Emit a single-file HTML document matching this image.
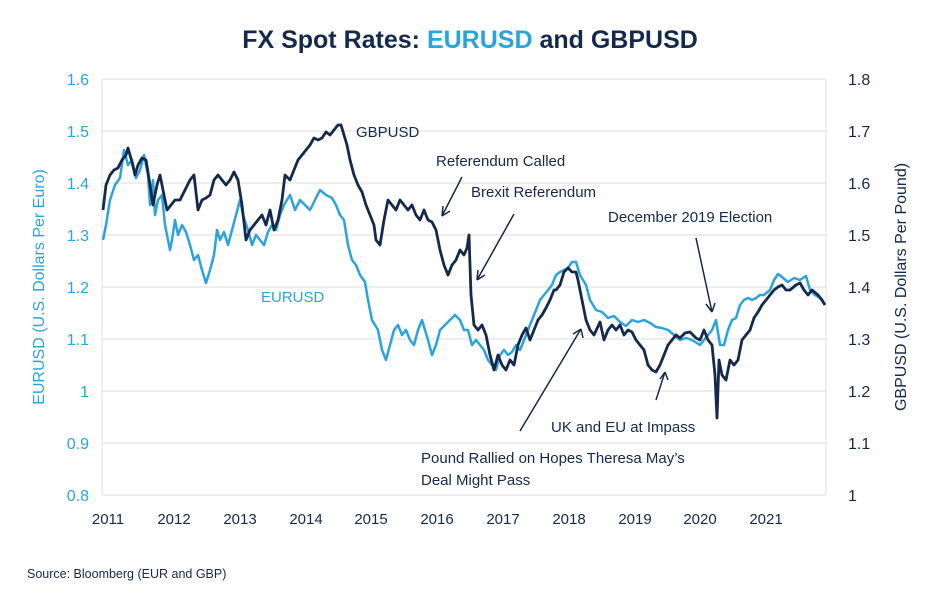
<!DOCTYPE html><html><head><meta charset="utf-8"><style>
html,body{margin:0;padding:0;background:#fff;width:940px;height:600px;overflow:hidden}
svg{display:block;font-family:"Liberation Sans",sans-serif}
</style></head><body>
<svg width="940" height="600" viewBox="0 0 940 600">
<text x="470" y="48" text-anchor="middle" font-size="25" font-weight="bold" fill="#14294b">FX Spot Rates: <tspan fill="#2ba4dc">EURUSD</tspan> and GBPUSD</text>
<g stroke="#dcdcdc" stroke-width="1">
<line x1="102" y1="79" x2="826" y2="79"/><line x1="102" y1="131" x2="826" y2="131"/><line x1="102" y1="183" x2="826" y2="183"/><line x1="102" y1="235" x2="826" y2="235"/><line x1="102" y1="287" x2="826" y2="287"/><line x1="102" y1="339" x2="826" y2="339"/><line x1="102" y1="391" x2="826" y2="391"/><line x1="102" y1="443" x2="826" y2="443"/><line x1="102" y1="495" x2="826" y2="495"/>
<line x1="102" y1="79" x2="102" y2="495"/><line x1="826" y1="79" x2="826" y2="495"/>
</g>
<g font-size="16" fill="#2ba4dc" text-anchor="end">
<text x="89" y="85">1.6</text><text x="89" y="137">1.5</text><text x="89" y="189">1.4</text><text x="89" y="241">1.3</text><text x="89" y="293">1.2</text><text x="89" y="345">1.1</text><text x="89" y="397">1</text><text x="89" y="449">0.9</text><text x="89" y="501">0.8</text>
</g>
<g font-size="16" fill="#14294b">
<text x="848" y="85">1.8</text><text x="848" y="137">1.7</text><text x="848" y="189">1.6</text><text x="848" y="241">1.5</text><text x="848" y="293">1.4</text><text x="848" y="345">1.3</text><text x="848" y="397">1.2</text><text x="848" y="449">1.1</text><text x="848" y="501">1</text>
</g>
<g font-size="15" fill="#14294b" text-anchor="middle">
<text x="108" y="524">2011</text><text x="174" y="524">2012</text><text x="240" y="524">2013</text><text x="306" y="524">2014</text><text x="371" y="524">2015</text><text x="437" y="524">2016</text><text x="503" y="524">2017</text><text x="569" y="524">2018</text><text x="635" y="524">2019</text><text x="700" y="524">2020</text><text x="766" y="524">2021</text>
</g>
<text transform="translate(44,287) rotate(-90)" text-anchor="middle" font-size="16" fill="#2ba4dc">EURUSD (U.S. Dollars Per Euro)</text>
<text transform="translate(906,287) rotate(-90)" text-anchor="middle" font-size="16" fill="#14294b">GBPUSD (U.S. Dollars Per Pound)</text>
<polyline fill="none" stroke="#2ba4dc" stroke-width="2.5" stroke-linejoin="round" points="103,240 106,225 110,200 115,185 120,178 124,150 128,165 132,160 136,178 140,170 144,155 148,175 150,205 153,180 155,215 158,200 162,195 165,225 170,250 172,240 175,220 178,235 182,225 186,232 190,245 194,260 198,255 202,270 206,283 210,270 214,255 217,230 220,240 224,232 228,245 232,230 236,215 240,200 243,215 248,230 252,245 256,235 260,240 264,245 268,232 272,225 276,230 280,215 284,205 290,195 295,210 300,200 305,205 310,210 316,198 320,190 326,195 332,198 336,205 340,215 344,220 348,245 352,260 356,265 360,275 365,282 368,300 372,320 375,325 378,330 382,350 386,360 390,345 394,330 398,325 402,335 406,330 410,340 414,345 418,330 422,320 428,340 432,355 436,345 440,330 445,325 450,320 455,315 460,320 464,330 468,330 472,345 476,340 480,345 484,350 488,360 492,365 496,370 500,355 504,350 508,355 512,352 516,345 520,350 524,340 528,330 532,320 536,310 540,300 544,295 548,290 552,285 556,275 560,272 564,270 568,268 572,262 576,262 580,275 586,285 590,300 596,310 602,312 608,318 614,316 620,322 626,326 632,320 638,322 644,320 650,323 656,327 662,328 668,330 674,335 680,340 686,338 692,340 700,345 704,340 708,335 712,330 716,320 720,345 724,345 728,330 732,320 736,318 740,305 744,300 748,298 752,300 756,298 760,295 764,295 770,290 774,280 778,274 782,277 788,282 794,278 800,280 806,276 810,290 815,295 820,298 825,305"/>
<polyline fill="none" stroke="#14294b" stroke-width="2.8" stroke-linejoin="round" points="103,210 106,185 110,175 114,170 118,168 122,160 126,155 128,148 132,162 135,175 138,165 142,158 146,160 150,185 153,205 157,185 160,175 163,190 167,210 171,205 175,200 180,200 185,190 190,180 194,175 198,210 202,200 206,198 210,195 214,180 218,175 222,180 226,185 230,180 234,172 238,180 242,205 246,240 250,230 254,225 258,220 262,215 266,225 270,210 274,230 278,220 282,200 285,175 290,180 294,170 298,160 302,155 306,150 310,145 314,138 318,140 322,138 326,132 330,135 334,130 338,125 341,125 344,135 347,145 350,160 354,175 358,185 362,192 366,205 370,215 374,225 376,240 380,245 384,220 388,200 392,205 396,210 400,200 404,205 408,210 412,205 416,215 420,220 424,210 428,220 432,222 436,230 440,250 444,265 448,275 452,265 456,260 460,250 464,255 467,248 469,235 471,295 474,325 478,330 482,325 486,335 490,355 494,370 498,355 502,365 506,370 510,360 514,365 518,345 522,335 526,328 530,340 534,330 538,320 542,315 546,308 550,300 554,290 556,290 560,285 564,272 568,268 572,272 576,272 578,280 582,300 586,320 590,330 594,335 600,322 604,340 608,330 612,325 616,330 620,325 624,335 628,330 632,332 636,340 640,345 644,350 648,365 652,370 656,372 660,365 664,355 668,345 672,340 676,335 680,338 685,333 690,332 696,338 700,340 704,330 708,340 712,345 715,375 717,418 719,360 722,375 726,380 730,360 734,365 738,360 742,340 746,335 750,330 754,318 758,312 762,305 766,300 770,295 774,290 778,287 782,285 786,290 790,290 796,285 800,283 804,290 808,295 812,290 818,295 822,300 825,305"/>
<g font-size="15" fill="#14294b">
<text x="356" y="137">GBPUSD</text>
<text x="436" y="166">Referendum Called</text>
<text x="471" y="197">Brexit Referendum</text>
<text x="608" y="222">December 2019 Election</text>
<text x="551" y="432">UK and EU at Impass</text>
<text x="421" y="463">Pound Rallied on Hopes Theresa May’s</text>
<text x="421" y="485">Deal Might Pass</text>
</g>
<text x="261" y="302" font-size="15" fill="#2ba4dc">EURUSD</text>
<g stroke="#14294b" stroke-width="1.5" fill="none">
<path d="M462 177 L442 216 M442 216 L443 206 M442 216 L450 211"/>
<path d="M514 214 L477 280 M477 280 L478 270 M477 280 L485 275"/>
<path d="M696 238 L712 312 M712 312 L706 304 M712 312 L715 303"/>
<path d="M656 400 L665 372 M665 372 L660 379 M665 372 L668 380"/>
<path d="M520 431 L581 329 M581 329 L573 334 M581 329 L583 338"/>
</g>
<text x="27" y="578" font-size="12.5" fill="#14294b">Source: Bloomberg (EUR and GBP)</text>
</svg></body></html>
